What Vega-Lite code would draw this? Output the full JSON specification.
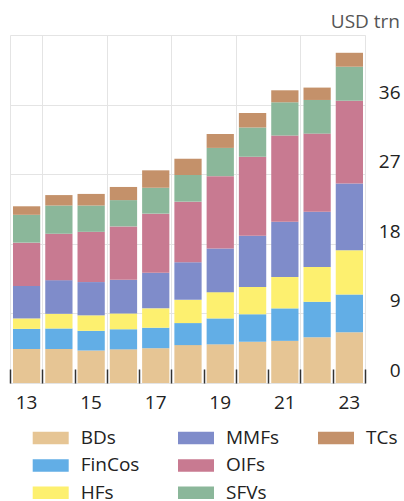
{
  "$schema": "https://vega.github.io/schema/vega-lite/v6.json",
  "autosize": {"type": "none"},
  "padding": {"left": 10, "top": 35, "right": 39, "bottom": 118},
  "width": 355,
  "height": 348,
  "title": {"text": "USD trn", "anchor": "end", "frame": "bounds", "fontSize": 19, "fontWeight": "normal", "color": "#555555", "font": "Open Sans", "offset": 3},
  "data": {"values": [
    {"year": "2013", "series": "BDs", "value": 4.4}, {"year": "2013", "series": "FinCos", "value": 2.6}, {"year": "2013", "series": "HFs", "value": 1.35}, {"year": "2013", "series": "MMFs", "value": 4.2}, {"year": "2013", "series": "OIFs", "value": 5.6}, {"year": "2013", "series": "SFVs", "value": 3.6}, {"year": "2013", "series": "TCs", "value": 1.1},
    {"year": "2014", "series": "BDs", "value": 4.4}, {"year": "2014", "series": "FinCos", "value": 2.65}, {"year": "2014", "series": "HFs", "value": 1.9}, {"year": "2014", "series": "MMFs", "value": 4.35}, {"year": "2014", "series": "OIFs", "value": 6.0}, {"year": "2014", "series": "SFVs", "value": 3.65}, {"year": "2014", "series": "TCs", "value": 1.35},
    {"year": "2015", "series": "BDs", "value": 4.2}, {"year": "2015", "series": "FinCos", "value": 2.55}, {"year": "2015", "series": "HFs", "value": 2.0}, {"year": "2015", "series": "MMFs", "value": 4.3}, {"year": "2015", "series": "OIFs", "value": 6.5}, {"year": "2015", "series": "SFVs", "value": 3.4}, {"year": "2015", "series": "TCs", "value": 1.5},
    {"year": "2016", "series": "BDs", "value": 4.35}, {"year": "2016", "series": "FinCos", "value": 2.6}, {"year": "2016", "series": "HFs", "value": 2.05}, {"year": "2016", "series": "MMFs", "value": 4.35}, {"year": "2016", "series": "OIFs", "value": 6.9}, {"year": "2016", "series": "SFVs", "value": 3.4}, {"year": "2016", "series": "TCs", "value": 1.7},
    {"year": "2017", "series": "BDs", "value": 4.5}, {"year": "2017", "series": "FinCos", "value": 2.65}, {"year": "2017", "series": "HFs", "value": 2.5}, {"year": "2017", "series": "MMFs", "value": 4.6}, {"year": "2017", "series": "OIFs", "value": 7.65}, {"year": "2017", "series": "SFVs", "value": 3.35}, {"year": "2017", "series": "TCs", "value": 2.25},
    {"year": "2018", "series": "BDs", "value": 4.9}, {"year": "2018", "series": "FinCos", "value": 2.85}, {"year": "2018", "series": "HFs", "value": 3.0}, {"year": "2018", "series": "MMFs", "value": 4.85}, {"year": "2018", "series": "OIFs", "value": 7.85}, {"year": "2018", "series": "SFVs", "value": 3.45}, {"year": "2018", "series": "TCs", "value": 2.1},
    {"year": "2019", "series": "BDs", "value": 5.0}, {"year": "2019", "series": "FinCos", "value": 3.35}, {"year": "2019", "series": "HFs", "value": 3.4}, {"year": "2019", "series": "MMFs", "value": 5.65}, {"year": "2019", "series": "OIFs", "value": 9.35}, {"year": "2019", "series": "SFVs", "value": 3.65}, {"year": "2019", "series": "TCs", "value": 1.8},
    {"year": "2020", "series": "BDs", "value": 5.35}, {"year": "2020", "series": "FinCos", "value": 3.55}, {"year": "2020", "series": "HFs", "value": 3.5}, {"year": "2020", "series": "MMFs", "value": 6.65}, {"year": "2020", "series": "OIFs", "value": 10.2}, {"year": "2020", "series": "SFVs", "value": 3.8}, {"year": "2020", "series": "TCs", "value": 1.85},
    {"year": "2021", "series": "BDs", "value": 5.45}, {"year": "2021", "series": "FinCos", "value": 4.2}, {"year": "2021", "series": "HFs", "value": 4.05}, {"year": "2021", "series": "MMFs", "value": 7.15}, {"year": "2021", "series": "OIFs", "value": 11.15}, {"year": "2021", "series": "SFVs", "value": 4.3}, {"year": "2021", "series": "TCs", "value": 1.55},
    {"year": "2022", "series": "BDs", "value": 5.9}, {"year": "2022", "series": "FinCos", "value": 4.6}, {"year": "2022", "series": "HFs", "value": 4.5}, {"year": "2022", "series": "MMFs", "value": 7.15}, {"year": "2022", "series": "OIFs", "value": 10.1}, {"year": "2022", "series": "SFVs", "value": 4.35}, {"year": "2022", "series": "TCs", "value": 1.6},
    {"year": "2023", "series": "BDs", "value": 6.55}, {"year": "2023", "series": "FinCos", "value": 4.9}, {"year": "2023", "series": "HFs", "value": 5.7}, {"year": "2023", "series": "MMFs", "value": 8.65}, {"year": "2023", "series": "OIFs", "value": 10.7}, {"year": "2023", "series": "SFVs", "value": 4.4}, {"year": "2023", "series": "TCs", "value": 1.8}
  ]},
  "transform": [
    {"stack": "value", "groupby": ["year"], "sort": [{"field": "series", "order": "ascending"}], "as": ["v0", "v1"]}
  ],
  "encoding": {
    "x": {
      "field": "year", "type": "temporal", "timeUnit": "utcyear",
      "scale": {"domain": [{"year": 2013, "utc": true}, {"year": 2024, "utc": true}]},
      "axis": {
        "title": null,
        "zindex": 1,
        "values": [{"year": 2013, "utc": true}, {"year": 2014, "utc": true}, {"year": 2015, "utc": true}, {"year": 2016, "utc": true}, {"year": 2017, "utc": true}, {"year": 2018, "utc": true}, {"year": 2019, "utc": true}, {"year": 2020, "utc": true}, {"year": 2021, "utc": true}, {"year": 2022, "utc": true}, {"year": 2023, "utc": true}, {"year": 2024, "utc": true}],
        "labelExpr": "utcyear(datum.value) % 2 == 1 ? utcFormat(datum.value, '%y') : ''",
        "labelOffset": 16.1,
        "labelFontSize": 19,
        "labelColor": "#222222",
        "labelFlush": false,
        "labelOverlap": false,
        "labelPadding": 24,
        "tickSize": -14,
        "tickColor": "#333333",
        "tickWidth": 1.5,
        "domain": false,
        "grid": true,
        "gridColor": "#e4e4e4",
        "gridOpacity": {"condition": {"test": "utcyear(datum.value) % 2 == 0", "value": 1}, "value": 0}
      }
    },
    "y": {
      "field": "v0", "type": "quantitative",
      "scale": {"domain": [0, 45], "nice": false},
      "axis": {
        "orient": "right", "title": null,
        "values": [0, 9, 18, 27, 36],
        "ticks": false, "domain": false,
        "labelFontSize": 19, "labelColor": "#222222",
        "labelAlign": "right", "labelPadding": 35,
        "labelBaseline": "alphabetic", "labelOffset": -6.5,
        "gridColor": "#e4e4e4"
      }
    },
    "y2": {"field": "v1"}
  },
  "layer": [
    {
      "transform": [{"filter": {"field": "series", "oneOf": ["BDs", "FinCos", "HFs"]}}],
      "mark": {"type": "bar", "binSpacing": 5},
      "encoding": {"color": {"field": "series", "type": "nominal",
        "scale": {"domain": ["BDs", "FinCos", "HFs"], "range": ["#e6c594", "#62aee6", "#fdf06f"]},
        "legend": {"orient": "none", "legendX": 22.7, "legendY": 393, "title": null}}}
    },
    {
      "transform": [{"filter": {"field": "series", "oneOf": ["MMFs", "OIFs", "SFVs"]}}],
      "mark": {"type": "bar", "binSpacing": 5},
      "encoding": {"color": {"field": "series", "type": "nominal",
        "scale": {"domain": ["MMFs", "OIFs", "SFVs"], "range": ["#7f8cca", "#c87a91", "#8bb79a"]},
        "legend": {"orient": "none", "legendX": 168, "legendY": 393, "title": null}}}
    },
    {
      "transform": [{"filter": {"field": "series", "oneOf": ["TCs"]}}],
      "mark": {"type": "bar", "binSpacing": 5},
      "encoding": {"color": {"field": "series", "type": "nominal",
        "scale": {"domain": ["TCs"], "range": ["#c4916a"]},
        "legend": {"orient": "none", "legendX": 308, "legendY": 393, "title": null}}}
    }
  ],
  "resolve": {"scale": {"color": "independent"}},
  "config": {
    "font": "Open Sans",
    "view": {"stroke": "#e4e4e4"},
    "legend": {
      "direction": "vertical",
      "labelFontSize": 19,
      "labelColor": "#222222",
      "symbolType": "M-1,-0.625L2.6,-0.625L2.6,0.625L-1,0.625Z",
      "symbolSize": 400,
      "symbolStrokeWidth": 0,
      "symbolOpacity": 1,
      "labelOffset": 28,
      "rowPadding": 7.4
    }
  }
}
